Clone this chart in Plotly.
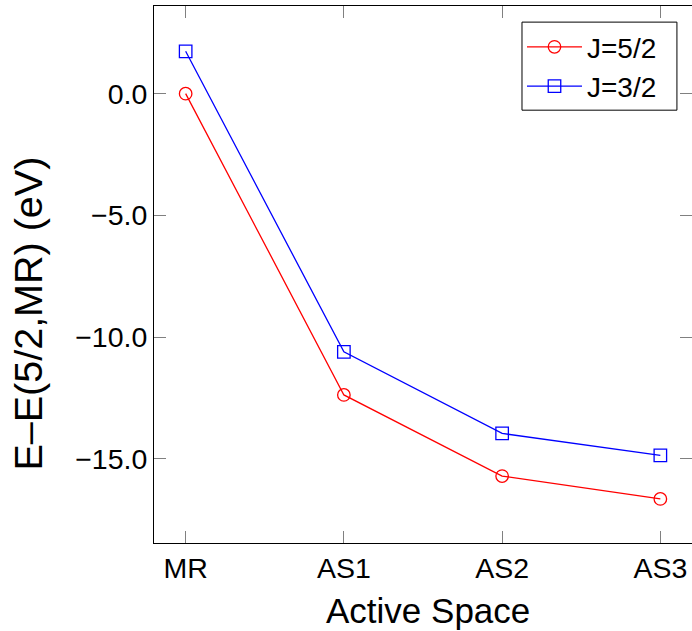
import plotly.graph_objects as go

categories = ["MR", "AS1", "AS2", "AS3"]
j52 = [0.0, -12.37, -15.70, -16.64]
j32 = [1.74, -10.60, -13.95, -14.85]
ytick_vals = [0, -5, -10, -15]

FONT = "Liberation Sans, Arial, Helvetica, sans-serif"

fig = go.Figure()
fig.add_trace(go.Scatter(
    x=categories, y=j52, mode="lines+markers", name="J=5/2",
    line=dict(color="#ff0000", width=1.3),
    marker=dict(symbol="circle-open", size=12.5, color="#ff0000", line=dict(width=1.3)),
))
fig.add_trace(go.Scatter(
    x=categories, y=j32, mode="lines+markers", name="J=3/2",
    line=dict(color="#0000ff", width=1.3),
    marker=dict(symbol="square-open", size=12.5, color="#0000ff", line=dict(width=1.3)),
))

fig.update_layout(
    width=692, height=631,
    margin=dict(l=154, r=0, t=6, b=88),
    paper_bgcolor="white", plot_bgcolor="white",
    font=dict(family=FONT, color="black"),
    showlegend=True,
    legend=dict(
        x=0.684, y=0.97, xanchor="left", yanchor="top",
        borderwidth=0, bgcolor="rgba(0,0,0,0)",
        font=dict(size=28, family=FONT), itemwidth=55,
        tracegroupgap=0,
    ),
    shapes=[
        dict(type="rect", xref="paper", yref="paper",
             x0=0.684, x1=0.972, y0=0.806, y1=0.970,
             line=dict(color="black", width=1), fillcolor="white", layer="above"),
    ],
    annotations=[
        dict(text="Active Space", xref="paper", yref="paper",
             x=0.510, y=-0.1248, xanchor="center", yanchor="middle",
             showarrow=False, font=dict(size=35, family=FONT)),
        dict(text="E–E(5/2,MR) (eV)", xref="paper", yref="paper",
             x=-0.2350, y=0.4264, xanchor="center", yanchor="middle",
             textangle=-90, showarrow=False, font=dict(size=39.5, family=FONT)),
    ],
)
fig.update_xaxes(
    type="category", range=[-0.2, 3.2],
    showline=True, linecolor="black", linewidth=1, mirror="allticks",
    ticks="inside", ticklen=12, tickcolor="#808080", tickwidth=1,
    showgrid=False, zeroline=False,
    tickfont=dict(size=28.5, family=FONT),
)
fig.update_yaxes(
    range=[-18.45, 3.6],
    tickvals=ytick_vals, tickformat=".1f",
    showline=True, linecolor="black", linewidth=1, mirror="allticks",
    ticks="inside", ticklen=12, tickcolor="#808080", tickwidth=1,
    showgrid=False, zeroline=False,
    tickfont=dict(size=28.5, family=FONT),
)

fig.write_html("out.html")
